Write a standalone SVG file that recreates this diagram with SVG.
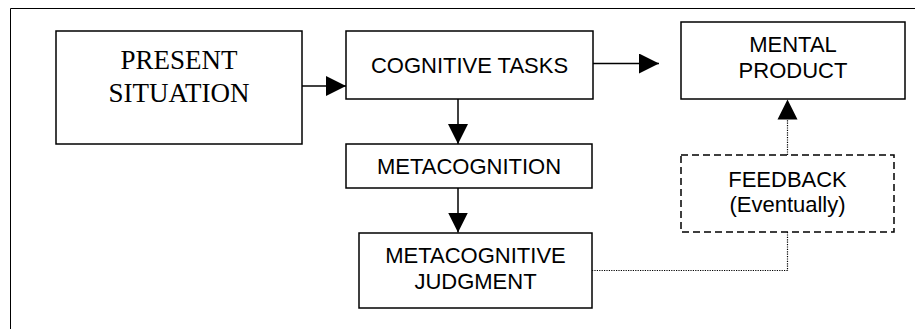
<svg xmlns="http://www.w3.org/2000/svg" width="915" height="329" viewBox="0 0 915 329">
<style>
.box{fill:#fff;stroke:#000;stroke-width:1.5}
.dash{fill:#fff;stroke:#000;stroke-width:1.5;stroke-dasharray:7,4}
.t{font-family:"Liberation Sans",Arial,sans-serif;font-size:22px;fill:#000;text-anchor:middle}
.s{font-family:"Liberation Serif","Times New Roman",serif;font-size:27px;fill:#000;text-anchor:middle}
.ln{fill:none;stroke:#000;stroke-width:1.5}
.dot{fill:none;stroke:#000;stroke-width:1.2;stroke-dasharray:1.2,1.2}
</style>
<defs>
<marker id="ah" markerUnits="userSpaceOnUse" markerWidth="20" markerHeight="20" refX="20" refY="10" orient="auto">
<path d="M0,0 L20,10 L0,20 Z" fill="#000"/>
</marker>
</defs>
<rect x="0" y="0" width="915" height="329" fill="#fff"/>
<path d="M10.5,329 V8.5 H915" fill="none" stroke="#000" stroke-width="1"/>
<g id="connectors">
<line class="ln" x1="302" y1="86" x2="346" y2="86" marker-end="url(#ah)"/>
<line class="ln" x1="593" y1="63.5" x2="659" y2="63.5" marker-end="url(#ah)"/>
<line class="ln" x1="458" y1="99" x2="458" y2="144" marker-end="url(#ah)"/>
<line class="ln" x1="458" y1="188" x2="458" y2="232.5" marker-end="url(#ah)"/>
<path class="dot" d="M592,270.5 H787.5 V232"/>
<line class="dot" x1="787.5" y1="155" x2="787.5" y2="118"/>
<path d="M777.5,119.5 L797.5,119.5 L787.5,99.5 Z" fill="#000"/>
</g>
<g id="present">
<rect class="box" x="56" y="31" width="246" height="113"/>
<text class="s" x="179" y="69">PRESENT</text>
<text class="s" x="179" y="102">SITUATION</text>
</g>
<g id="cognitive">
<rect class="box" x="346" y="31" width="247" height="68"/>
<text class="t" x="469.5" y="72.5">COGNITIVE TASKS</text>
</g>
<g id="mental">
<rect class="box" x="681" y="22" width="224" height="77"/>
<text class="t" x="793" y="51.5">MENTAL</text>
<text class="t" x="793" y="77.5">PRODUCT</text>
</g>
<g id="metacognition">
<rect class="box" x="346" y="144" width="246" height="44"/>
<text class="t" x="469" y="173.5">METACOGNITION</text>
</g>
<g id="judgment">
<rect class="box" x="359" y="233" width="233" height="75"/>
<text class="t" x="475.5" y="263">METACOGNITIVE</text>
<text class="t" x="475.5" y="289">JUDGMENT</text>
</g>
<g id="feedback">
<rect class="dash" x="681" y="155" width="213" height="77"/>
<text class="t" x="787.5" y="186.5">FEEDBACK</text>
<text class="t" x="787.5" y="212">(Eventually)</text>
</g>
</svg>
